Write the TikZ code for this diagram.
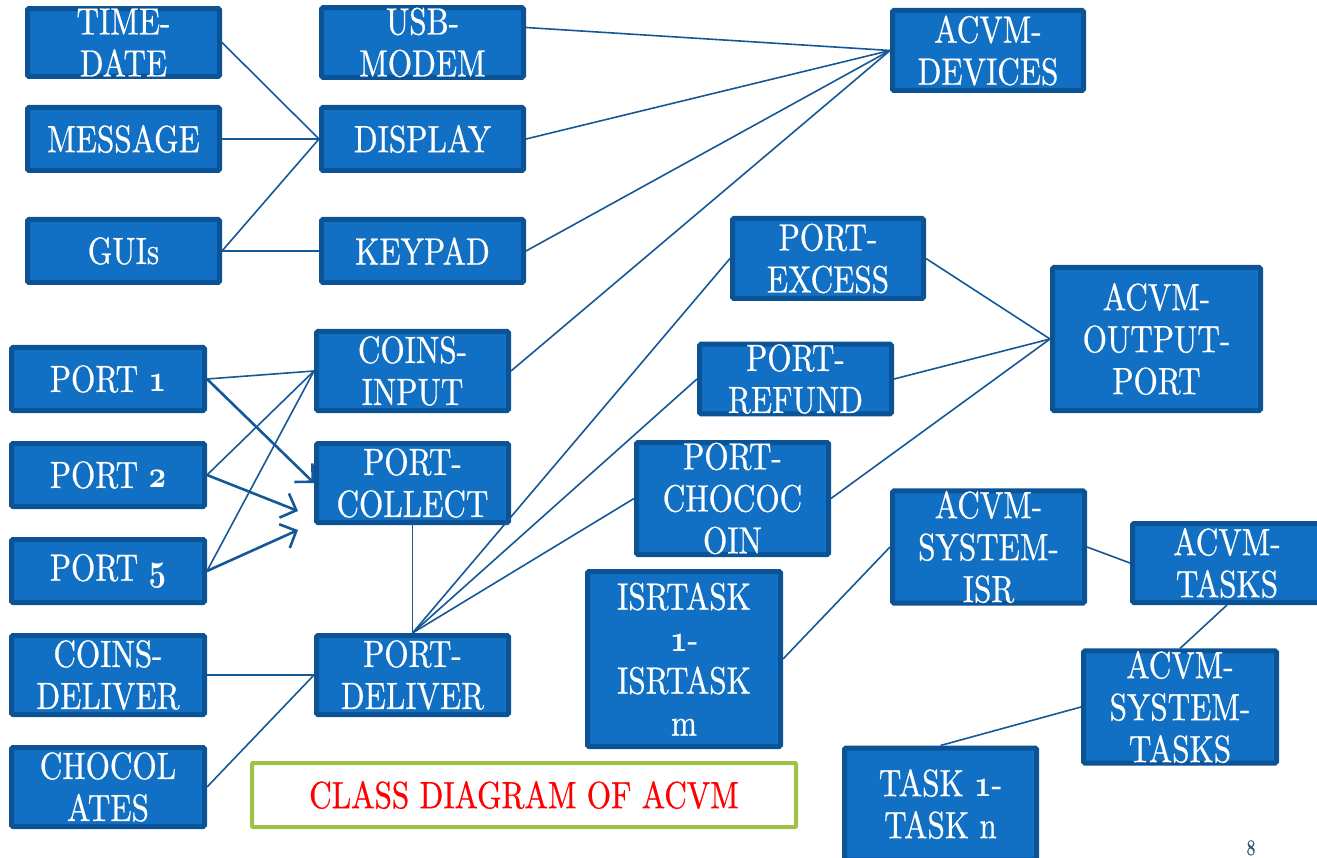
\RequirePackage{fix-cm}
\documentclass[tikz,border=0pt]{standalone}
\usepackage{fontspec}
\setmainfont{lmroman10-regular.otf}[FakeStretch=0.82,FakeBold=0.6]
\usepackage{graphicx}
\usetikzlibrary{arrows.meta}
\definecolor{boxfill}{RGB}{17,112,196}
\definecolor{boxborder}{RGB}{12,83,149}
\definecolor{linecol}{RGB}{20,88,152}
\definecolor{titlegreen}{RGB}{160,192,70}
\definecolor{pagenum}{RGB}{40,95,105}
\newcommand{\osn}[1]{\scalebox{0.8}[1]{\resizebox{!}{17pt}{\usefont{OML}{cmm}{b}{it}#1}}}
\newcommand{\acvmfont}{\fontsize{38}{42}\selectfont}
\begin{document}
\begin{tikzpicture}[x=1pt,y=-1pt,
  box/.style={draw=boxborder, fill=boxfill, line width=5pt, text=white,
    inner sep=0pt, align=center, font=\acvmfont, rounded corners=1.5pt},
  titlebox/.style={draw=titlegreen, fill=white, line width=4pt, text=red,
    inner sep=0pt, align=center, font=\acvmfont, rounded corners=1pt},
  conn/.style={draw=linecol, line width=1.6pt},
  arr/.style={draw=linecol, line width=2.6pt, -{Straight Barb[length=13pt,width=26pt]}}]
\clip (0,0) rectangle (1317,858);

% left column top
\node[box, minimum width=192pt, minimum height=64pt] (timedate) at (123.5,42.5) {TIME-\\DATE};
\node[box, minimum width=192pt, minimum height=63pt] (message) at (123.5,139) {MESSAGE};
\node[box, minimum width=192pt, minimum height=63pt] (guis) at (123.5,251) {GUIs};
\node[box, minimum width=202pt, minimum height=64pt] (usb) at (422.5,42.5) {USB-\\MODEM};
\node[box, minimum width=202pt, minimum height=63pt] (display) at (422.5,139) {DISPLAY};
\node[box, minimum width=202pt, minimum height=63pt] (keypad) at (422.5,251) {KEYPAD};
\node[box, minimum width=191pt, minimum height=80pt] (devices) at (988,50.5) {ACVM-\\DEVICES};

% ports
\node[box, minimum width=193pt, minimum height=63pt] (port1) at (108,379) {PORT \osn{1}};
\node[box, minimum width=193pt, minimum height=63pt] (port2) at (108,475) {PORT \osn{2}};
\node[box, minimum width=193pt, minimum height=63pt] (port5) at (108,571) {PORT \osn{5}};
\node[box, minimum width=193pt, minimum height=79pt] (cdeliver) at (108,675) {COINS-\\DELIVER};
\node[box, minimum width=193pt, minimum height=79pt] (chocolates) at (108,787) {CHOCOL\\ATES};
\node[box, minimum width=192pt, minimum height=79pt] (cinput) at (412.5,371) {COINS-\\INPUT};
\node[box, minimum width=192pt, minimum height=79pt] (pcollect) at (412.5,483) {PORT-\\COLLECT};
\node[box, minimum width=192pt, minimum height=79pt] (pdeliver) at (412.5,675) {PORT-\\DELIVER};

% middle / right
\node[box, minimum width=191pt, minimum height=80pt] (excess) at (828,258.5) {PORT-\\EXCESS};
\node[box, minimum width=192pt, minimum height=63pt] (refund) at (795.5,379) {PORT-\\REFUND};
\node[box, minimum width=192pt, minimum height=112pt] (choco) at (732.5,498.5) {PORT-\\CHOCOC\\OIN};
\node[box, minimum width=208pt, minimum height=143pt] (output) at (1156.5,339) {ACVM-\\OUTPUT-\\PORT};
\node[box, minimum width=193pt, minimum height=175pt] (isrtask) at (684,659) {ISRTASK\\\osn{1}-\\ISRTASK\\m};
\node[box, minimum width=192pt, minimum height=111pt] (sysisr) at (988.5,547) {ACVM-\\SYSTEM-\\ISR};
\node[box, minimum width=189pt, minimum height=79pt] (tasks) at (1227,563) {ACVM-\\TASKS};
\node[box, minimum width=193pt, minimum height=111pt] (systasks) at (1180,707) {ACVM-\\SYSTEM-\\TASKS};
\node[box, minimum width=192pt, minimum height=112pt] (task) at (940.5,804) {TASK \osn{1}-\\TASK n};

% title
\node[titlebox, minimum width=544pt, minimum height=64pt] (title) at (524,795) {CLASS DIAGRAM OF ACVM};
\node[font=\fontsize{22}{24}\selectfont, text=pagenum, anchor=base, inner sep=0pt] (pnum) at (1251,855) {8};

% connectors
\draw[conn] (timedate.east) -- (display.west);
\draw[conn] (message.east) -- (display.west);
\draw[conn] (guis.east) -- (display.west);
\draw[conn] (guis.east) -- (keypad.west);
\draw[conn] ([yshift=15pt]usb.east) -- (devices.west);
\draw[conn] (display.east) -- (devices.west);
\draw[conn] (keypad.east) -- (devices.west);
\draw[conn] (cinput.east) -- (devices.west);

\draw[conn] (port1.east) -- (cinput.west);
\draw[conn] (port2.east) -- (cinput.west);
\draw[conn] (port5.east) -- (cinput.west);
\coordinate (tip2) at (298,511);
\coordinate (tip5) at (298,530);
\draw[arr] (port1.east) -- (pcollect.west);
\draw[arr] (port2.east) -- (tip2);
\draw[arr] (port5.east) -- (tip5);

\draw[conn] (pcollect.south) -- (pdeliver.north);
\draw[conn] (pdeliver.north) -- (excess.west);
\draw[conn] (pdeliver.north) -- (refund.west);
\draw[conn] (pdeliver.north) -- (choco.west);
\draw[conn] (cdeliver.east) -- (pdeliver.west);
\draw[conn] (chocolates.east) -- (pdeliver.west);

\draw[conn] (excess.east) -- (output.west);
\draw[conn] (refund.east) -- (output.west);
\draw[conn] (choco.east) -- (output.west);

\draw[conn] (isrtask.east) -- (sysisr.west);
\draw[conn] (sysisr.east) -- (tasks.west);
\draw[conn] (tasks.south) -- (systasks.north);
\draw[conn] (systasks.west) -- (task.north);
\end{tikzpicture}
\end{document}
